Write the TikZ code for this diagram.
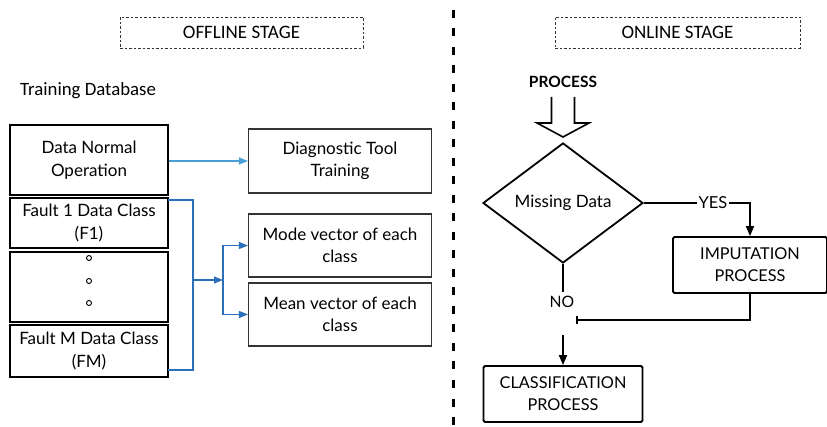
\documentclass[tikz,border=0pt]{standalone}
\usepackage{fontspec}
\setmainfont{Lato}
\newfontfamily\calib{Carlito}
\usetikzlibrary{arrows.meta,shapes.geometric}
\definecolor{lightblue}{HTML}{4A9FD8}
\definecolor{darkblue}{HTML}{2C6FBA}
\definecolor{boxgray}{HTML}{333333}
\begin{document}
\begin{tikzpicture}[x=1pt,y=-1pt,
  txt/.style={font=\fontsize{17}{22.5}\selectfont, align=center},
  captxt/.style={font=\fontsize{16.3}{22}\selectfont, align=center},
  stagebox/.style={draw=boxgray, dashed, dash pattern=on 2.5pt off 2pt, line width=0.8pt,
    minimum height=31pt, font=\calib\fontsize{19}{22}\selectfont, inner sep=0},
  dbbox/.style={draw, line width=2.6pt, minimum width=158pt, txt, inner sep=0},
  thinbox/.style={draw=boxgray, line width=1.1pt, minimum width=183pt, txt, inner sep=0},
  flowbox/.style={draw, line width=1.8pt, rounded corners=1.5pt, minimum width=159pt,
    minimum height=56pt, captxt, inner sep=0},
  blue1/.style={draw=lightblue, line width=1.2pt, -{Triangle[length=9pt,width=7pt]}},
  blue2/.style={draw=darkblue, line width=1.2pt},
  bluetip/.style={-{Triangle[length=9pt,width=7pt]}},
  flow/.style={draw, line width=1.8pt},
  tip/.style={-{Triangle[length=10pt,width=8pt]}}]
\useasboundingbox (0,0) rectangle (827,427);

% stage headers and divider
\node[stagebox, minimum width=243pt] (off) at (241.5,32.5) {OFFLINE STAGE};
\node[stagebox, minimum width=245pt] (on) at (677.5,32.5) {ONLINE STAGE};
\coordinate (divtop) at (453,10);
\coordinate (divbot) at (453,427);
\draw[line width=3pt, dash pattern=on 8pt off 10.5pt] (divtop) -- (divbot);

% training database
\node[font=\calib\fontsize{18.8}{22}\selectfont, anchor=west, inner sep=0] (tdb) at (20,91) {Training Database};
\node[dbbox, minimum height=70pt] (dno) at (89,160) {Data Normal\\Operation};
\node[dbbox, minimum height=50pt] (f1) at (89,223) {Fault 1 Data Class\\(F1)};
\node[dbbox, minimum height=70pt] (dots) at (89,287) {};
\node[dbbox, minimum height=52pt] (fm) at (89,351) {Fault M Data Class\\(FM)};
\foreach \yy [count=\i] in {258,281,303}
  \node[draw, circle, line width=0.9pt, minimum size=5pt, inner sep=0] (dot\i) at (89,\yy) {};

% offline results
\node[thinbox, minimum height=64pt] (diag) at (340,161) {Diagnostic Tool\\Training};
\node[thinbox, minimum height=63pt] (mode) at (340,245.5) {Mode vector of each\\class};
\node[thinbox, minimum height=63pt] (mean) at (340,314.5) {Mean vector of each\\class};

\draw[blue1] (dno.east |- diag.west) -- (diag.west);
\coordinate (f1out) at (168,200);
\coordinate (fmout) at (168,370);
\coordinate (br) at (193,280);
\coordinate (split) at (223,280);
\draw[blue2] (f1out) -- (193,200) -- (193,370) -- (fmout);
\draw[blue2, bluetip] (br) -- (split);
\draw[blue2, bluetip] (split) |- (mode.west);
\draw[blue2, bluetip] (split) |- (mean.west);

% online flow
\node[font=\bfseries\fontsize{15.5}{18}\selectfont] (proc) at (563,82) {PROCESS};
\draw[line width=1.6pt, line join=miter]
  (551.5,97) -- (551.5,123) -- (537,123) -- (563,137) -- (589,123) -- (574.5,123) -- (574.5,97);
\node[draw, diamond, line width=1.8pt, minimum width=160pt, minimum height=120pt,
  aspect=1.333, inner sep=0, txt] (md) at (563,203) {Missing Data};
\node[flowbox, minimum width=154pt] (imp) at (750,265) {IMPUTATION\\PROCESS};
\node[flowbox] (cls) at (563,394) {CLASSIFICATION\\PROCESS};

\node[font=\fontsize{16.5}{18}\selectfont, fill=white, inner sep=1pt] (yes) at (713,203) {YES};
\draw[flow] (md.east) -- (yes.west);
\draw[flow, tip] (yes.east) -| (imp.north);

\coordinate (noend) at (563,292);
\node[font=\fontsize{15.7}{18}\selectfont] (no) at (562,302) {NO};
\draw[flow] (md.south) -- (noend);
\coordinate (merge) at (576,320);
\draw[flow, -{Bar[width=8pt,line width=1.6pt]}] (imp.south) |- (merge);
\coordinate (clsin) at (563,335);
\draw[flow, tip] (clsin) -- (cls.north);
\end{tikzpicture}
\end{document}
